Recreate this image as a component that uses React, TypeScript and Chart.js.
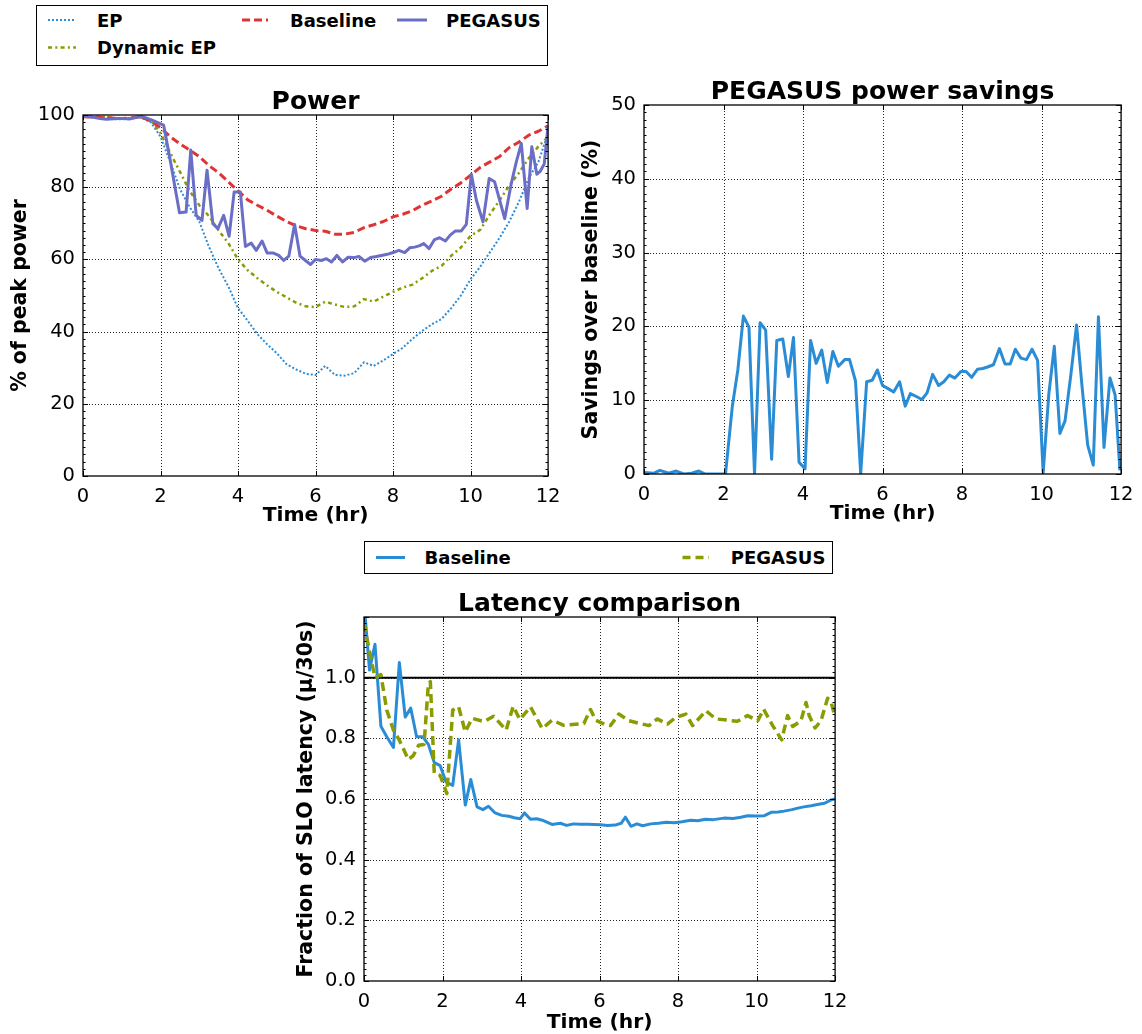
import React, { useEffect, useRef } from "react";
import { Chart, registerables } from "chart.js";

Chart.register(...registerables);

const FONT = "'DejaVu Sans', 'Liberation Sans', sans-serif";

// ---------------- Power chart data ----------------
const SMOOTH_T = [0, 0.5, 1, 1.5, 1.75, 2, 2.25, 2.5, 2.75, 3, 3.25, 3.5, 3.75, 4, 4.25, 4.5, 4.75, 5, 5.25, 5.5, 5.75, 6, 6.25, 6.5, 6.75, 7, 7.25, 7.5, 7.75, 8, 8.25, 8.5, 8.75, 9, 9.25, 9.5, 9.75, 10, 10.25, 10.5, 10.75, 11, 11.25, 11.5, 11.75, 12];
const EP_POWER = [99.5, 99, 98.8, 99.3, 98, 94, 87, 79.5, 74.5, 70.5, 63.5, 57.5, 52.5, 46.5, 43, 39.3, 36.5, 34, 31, 29.5, 28.3, 28, 30.5, 28, 27.8, 28.5, 31.5, 30.5, 32, 33.8, 35.5, 38, 40.2, 42, 43.5, 46.5, 50, 54.5, 58, 62, 66, 70.5, 76, 82.5, 87, 95];
const DYN_EP_POWER = [99.5, 99.5, 99, 99.3, 98.5, 95, 89.5, 84.3, 79, 75, 72, 68, 64.5, 60, 57, 54.8, 52.8, 51, 49.5, 48, 47, 46.8, 48.3, 47.5, 46.8, 47, 49, 48.3, 49.7, 51, 52.2, 53, 54.8, 56.8, 58.2, 61, 63.3, 66.5, 68.2, 72.5, 76.4, 80.5, 84, 88, 91.3, 94];
const BASELINE_POWER = [99.5, 99.3, 99, 99.5, 98.3, 96.5, 94, 92, 90.3, 88.5, 86, 84, 81.5, 79, 76.5, 75, 73.6, 72, 70.5, 69.3, 68.5, 68, 67.8, 67, 67, 67.5, 68.8, 69.6, 70.5, 71.8, 72.5, 73.5, 75, 76.2, 77.5, 79.5, 81.2, 83.3, 85.5, 87, 88.5, 91, 92.5, 94.4, 95.5, 97];

const PEG_T = [0, 0.2, 0.44, 0.6, 0.9, 1.04, 1.2, 1.5, 1.78, 2.08, 2.25, 2.49, 2.66, 2.78, 2.92, 3.07, 3.2, 3.35, 3.48, 3.63, 3.77, 3.9, 4.06, 4.19, 4.34, 4.47, 4.62, 4.75, 4.9, 5.05, 5.18, 5.31, 5.46, 5.6, 5.74, 5.87, 6.0, 6.15, 6.28, 6.41, 6.55, 6.7, 6.84, 6.99, 7.12, 7.27, 7.42, 7.57, 7.7, 7.85, 8.0, 8.15, 8.3, 8.43, 8.56, 8.69, 8.79, 8.93, 9.07, 9.2, 9.35, 9.48, 9.61, 9.76, 9.89, 10.02, 10.15, 10.32, 10.48, 10.62, 10.75, 10.88, 11.05, 11.18, 11.31, 11.46, 11.58, 11.71, 11.79, 11.9, 12.0];
const PEGASUS_POWER = [99.7, 99.5, 99, 98.8, 99, 99, 98.9, 99.7, 98.6, 97.2, 87.5, 72.9, 73.1, 90.3, 72.2, 70.8, 84.7, 69.9, 68.5, 72.2, 66.4, 78.7, 78.7, 63.6, 64.5, 62.5, 65.1, 61.8, 61.8, 61.1, 59.7, 60.9, 69.7, 60.9, 59.7, 58.6, 60, 59.7, 60.2, 59.3, 61.1, 59.3, 60.6, 60.5, 60.8, 59.5, 60.5, 60.8, 61.1, 61.4, 61.9, 62.5, 61.9, 63.2, 63.4, 63.8, 64.4, 63, 65.5, 66, 65.1, 66.8, 67.9, 67.9, 69.7, 83.6, 76.4, 70.4, 82.4, 81.5, 76.4, 71.3, 81, 87, 92.1, 74.1, 91.2, 83.6, 84.3, 86.4, 97.2];

// ---------------- Savings chart data ----------------
const SAV_T = [0, 0.24, 0.4, 0.62, 0.81, 1.0, 1.2, 1.38, 1.54, 2.05, 2.22, 2.36, 2.5, 2.64, 2.78, 2.92, 3.06, 3.21, 3.34, 3.49, 3.63, 3.76, 3.9, 4.05, 4.19, 4.33, 4.47, 4.61, 4.75, 4.89, 5.05, 5.17, 5.32, 5.45, 5.6, 5.74, 5.87, 6.0, 6.13, 6.28, 6.43, 6.57, 6.7, 6.85, 6.99, 7.12, 7.26, 7.41, 7.54, 7.68, 7.82, 7.97, 8.1, 8.24, 8.39, 8.52, 8.64, 8.79, 8.94, 9.08, 9.21, 9.34, 9.48, 9.62, 9.76, 9.9, 10.04, 10.18, 10.32, 10.46, 10.59, 10.74, 10.88, 11.01, 11.16, 11.3, 11.43, 11.57, 11.72, 11.85, 11.97];
const SAVINGS = [0.2, 0.1, 0.5, 0.1, 0.4, 0, 0.1, 0.4, 0, 0, 9.1, 14.1, 21.4, 19.9, 0, 20.5, 19.5, 2, 18.1, 18.3, 13.2, 18.5, 1.6, 0.7, 18.1, 15, 16.8, 12.4, 16.6, 14.6, 15.5, 15.5, 12.6, 0, 12.5, 12.7, 14.1, 12, 11.6, 11.1, 12.5, 9.2, 10.9, 10.5, 10.1, 11, 13.5, 12, 12.5, 13.4, 13, 13.9, 13.9, 13.1, 14.2, 14.3, 14.5, 14.8, 17, 14.9, 14.9, 16.9, 15.7, 15.5, 16.9, 15.4, 0.2, 10.7, 17.3, 5.5, 7.2, 13.6, 20.2, 12.3, 3.9, 1.2, 21.3, 3.6, 13, 10.7, 0.5];

// ---------------- Latency chart data ----------------
const LAT_BASE_T = [0, 0.14, 0.28, 0.43, 0.58, 0.75, 0.9, 1.05, 1.19, 1.34, 1.5, 1.64, 1.79, 1.94, 2.09, 2.26, 2.41, 2.58, 2.72, 2.88, 3.03, 3.17, 3.34, 3.51, 3.69, 3.83, 3.98, 4.09, 4.24, 4.4, 4.54, 4.79, 5.0, 5.16, 5.34, 5.5, 5.7, 5.86, 6.03, 6.2, 6.4, 6.55, 6.66, 6.8, 6.95, 7.1, 7.3, 7.5, 7.7, 7.9, 8.1, 8.32, 8.5, 8.7, 8.9, 9.17, 9.4, 9.6, 9.77, 10.0, 10.2, 10.37, 10.55, 10.7, 10.9, 11.05, 11.2, 11.39, 11.55, 11.73, 11.9, 12];
const LAT_BASELINE = [1.25, 1.025, 1.11, 0.84, 0.805, 0.77, 1.05, 0.87, 0.9, 0.805, 0.805, 0.78, 0.72, 0.71, 0.656, 0.645, 0.795, 0.58, 0.664, 0.574, 0.565, 0.576, 0.554, 0.546, 0.543, 0.538, 0.535, 0.554, 0.533, 0.535, 0.53, 0.516, 0.52, 0.513, 0.518, 0.517, 0.517, 0.516, 0.515, 0.513, 0.514, 0.52, 0.54, 0.51, 0.518, 0.512, 0.518, 0.52, 0.523, 0.522, 0.525, 0.53, 0.528, 0.533, 0.532, 0.537, 0.536, 0.54, 0.545, 0.544, 0.545, 0.556, 0.557, 0.56, 0.565, 0.57, 0.574, 0.578, 0.582, 0.586, 0.597, 0.6];
const LAT_PEG_T = [0, 0.15, 0.28, 0.43, 0.58, 0.75, 0.9, 1.13, 1.26, 1.39, 1.53, 1.64, 1.69, 1.79, 1.94, 2.11, 2.26, 2.41, 2.58, 2.75, 3.06, 3.3, 3.62, 3.8, 3.97, 4.24, 4.54, 4.79, 5.09, 5.6, 5.77, 5.9, 6.15, 6.28, 6.49, 6.75, 7.0, 7.26, 7.47, 7.73, 7.94, 8.2, 8.37, 8.71, 8.96, 9.26, 9.51, 9.77, 10.03, 10.18, 10.41, 10.64, 10.79, 10.92, 11.13, 11.26, 11.34, 11.49, 11.64, 11.81, 11.9, 12];
const LAT_PEGASUS = [1.18, 1.08, 1.0, 1.01, 0.893, 0.827, 0.794, 0.73, 0.744, 0.777, 0.78, 0.98, 0.987, 0.684, 0.678, 0.618, 0.893, 0.904, 0.821, 0.866, 0.855, 0.873, 0.827, 0.906, 0.862, 0.904, 0.832, 0.86, 0.843, 0.849, 0.895, 0.86, 0.845, 0.842, 0.88, 0.858, 0.85, 0.842, 0.864, 0.847, 0.869, 0.88, 0.842, 0.891, 0.864, 0.86, 0.856, 0.875, 0.858, 0.896, 0.842, 0.795, 0.875, 0.839, 0.858, 0.918, 0.875, 0.834, 0.858, 0.932, 0.918, 0.87];
const SLO_T = [0, 12];
const SLO_LEVEL = [1.0, 1.0];

// ---------------- Tick setups ----------------
const TIME_TICK_STEP = 2;
const POWER_TICKS = { min: 0, max: 100, step: 20 };
const SAVINGS_TICKS = { min: 0, max: 50, step: 10 };
const LATENCY_TICKS = { min: 0, max: 1.2, step: 0.2 };

const C_BLUE = "#2b8cd6";
const C_RED = "#e03434";
const C_OLIVE = "#8a9c00";
const C_PURPLE = "#6a6ec6";

const pts = (xs: number[], ys: number[]) => xs.map((x, i) => ({ x, y: ys[i] }));

const mplAxes = {
  id: "mplAxes",
  beforeDatasetsDraw(chart: any) {
    const { ctx, chartArea: a } = chart;
    const xs = chart.scales.x;
    const ys = chart.scales.y;
    ctx.save();
    ctx.strokeStyle = "rgba(0,0,0,0.85)";
    ctx.lineWidth = 1;
    ctx.setLineDash([1, 2]);
    ctx.beginPath();
    xs.ticks.forEach((t: any) => {
      const p = Math.round(xs.getPixelForValue(t.value)) + 0.5;
      if (p < a.left + 2 || p > a.right - 2) return;
      ctx.moveTo(p, a.top);
      ctx.lineTo(p, a.bottom);
    });
    ys.ticks.forEach((t: any) => {
      const p = Math.round(ys.getPixelForValue(t.value)) + 0.5;
      if (p < a.top + 2 || p > a.bottom - 2) return;
      ctx.moveTo(a.left, p);
      ctx.lineTo(a.right, p);
    });
    ctx.stroke();
    ctx.restore();
  },
  afterDatasetsDraw(chart: any) {
    const { ctx, chartArea: a } = chart;
    const xs = chart.scales.x;
    const ys = chart.scales.y;
    ctx.save();
    ctx.setLineDash([]);
    ctx.strokeStyle = "#000";
    ctx.lineWidth = 1;
    ctx.beginPath();
    xs.ticks.forEach((t: any) => {
      const p = Math.round(xs.getPixelForValue(t.value)) + 0.5;
      ctx.moveTo(p, a.bottom);
      ctx.lineTo(p, a.bottom - 5);
      ctx.moveTo(p, a.top);
      ctx.lineTo(p, a.top + 5);
    });
    ys.ticks.forEach((t: any) => {
      const p = Math.round(ys.getPixelForValue(t.value)) + 0.5;
      ctx.moveTo(a.left, p);
      ctx.lineTo(a.left + 5, p);
      ctx.moveTo(a.right, p);
      ctx.lineTo(a.right - 5, p);
    });
    if (ys.ticks.length > 1) {
      const step = (ys.ticks[1].value - ys.ticks[0].value) / 10;
      const n = Math.round((ys.max - ys.min) / step);
      for (let i = 1; i < n; i++) {
        const p = Math.round(ys.getPixelForValue(ys.min + i * step)) + 0.5;
        ctx.moveTo(a.left, p);
        ctx.lineTo(a.left + 2.5, p);
        ctx.moveTo(a.right, p);
        ctx.lineTo(a.right - 2.5, p);
      }
    }
    ctx.stroke();
    ctx.lineWidth = 1.3;
    ctx.strokeRect(a.left, a.top, a.right - a.left, a.bottom - a.top);
    ctx.restore();
  },
};

type PanelParams = {
  title: string;
  titlePadTop: number;
  yTitle: string;
  yTitlePadTop: number;
  xTitlePadBottom: number;
  xTitleLineHeight: number;
  yWidth: number;
  xHeight: number;
  padRight: number;
  yTicks: { min: number; max: number; step: number };
  yFormat: (v: number) => string;
  datasets: any[];
};

function makeConfig(p: PanelParams): any {
  return {
    type: "line",
    data: { datasets: p.datasets },
    options: {
      responsive: false,
      animation: false,
      devicePixelRatio: 1,
      events: [],
      layout: { padding: { left: 0, right: p.padRight, top: 0, bottom: 0 } },
      elements: { point: { radius: 0 }, line: { tension: 0 } },
      plugins: {
        legend: { display: false },
        tooltip: { enabled: false },
        title: {
          display: true,
          fullSize: false,
          text: p.title,
          color: "#000",
          font: { family: FONT, size: 25, weight: "bold", lineHeight: 1 },
          padding: { top: p.titlePadTop, bottom: 0 },
        },
      },
      scales: {
        x: {
          type: "linear",
          min: 0,
          max: 12,
          grid: { display: false, drawTicks: false },
          border: { display: false },
          ticks: {
            stepSize: TIME_TICK_STEP,
            padding: 9.5,
            color: "#000",
            autoSkip: false,
            maxRotation: 0,
            font: { family: FONT, size: 19.5 },
          },
          title: {
            display: true,
            text: "Time (hr)",
            color: "#000",
            font: { family: FONT, size: 20.3, weight: "bold", lineHeight: p.xTitleLineHeight },
            padding: { top: 0, bottom: p.xTitlePadBottom },
          },
          afterFit: (s: any) => {
            s.height = p.xHeight;
          },
        },
        y: {
          type: "linear",
          min: p.yTicks.min,
          max: p.yTicks.max,
          grid: { display: false, drawTicks: false },
          border: { display: false },
          ticks: {
            stepSize: p.yTicks.step,
            padding: 8,
            color: "#000",
            autoSkip: false,
            font: { family: FONT, size: 19.5 },
            callback: (v: any) => p.yFormat(Number(v)),
          },
          title: {
            display: true,
            text: p.yTitle,
            color: "#000",
            font: { family: FONT, size: 20.5, weight: "bold", lineHeight: 1.2 },
            padding: { top: p.yTitlePadTop, bottom: 0 },
          },
          afterFit: (s: any) => {
            s.width = p.yWidth;
          },
        },
      },
    },
    plugins: [mplAxes],
  };
}

function ChartCanvas(props: { left: number; top: number; width: number; height: number; make: () => any }) {
  const ref = useRef<HTMLCanvasElement>(null);
  useEffect(() => {
    const chart = new Chart(ref.current as HTMLCanvasElement, props.make());
    return () => chart.destroy();
  }, []);
  return (
    <canvas
      ref={ref}
      width={props.width}
      height={props.height}
      style={{ position: "absolute", display: "block", left: props.left, top: props.top, width: props.width, height: props.height }}
    />
  );
}

const line = (label: string, xs: number[], ys: number[], color: string, width: number, dash: number[] = []) => ({
  label,
  data: pts(xs, ys),
  borderColor: color,
  backgroundColor: color,
  borderWidth: width,
  borderDash: dash,
  borderJoinStyle: "round",
  borderCapStyle: "butt",
  fill: false,
  pointRadius: 0,
});

const powerConfig = () =>
  makeConfig({
    title: "Power",
    titlePadTop: 15,
    yTitle: "% of peak power",
    yTitlePadTop: 8,
    xTitlePadBottom: 6.6,
    xTitleLineHeight: 1.2,
    yWidth: 83,
    xHeight: 59,
    padRight: 17,
    yTicks: POWER_TICKS,
    yFormat: (v) => String(Math.round(v)),
    datasets: [
      line("PEGASUS", PEG_T, PEGASUS_POWER, C_PURPLE, 3),
      line("Baseline", SMOOTH_T, BASELINE_POWER, C_RED, 3, [8, 4]),
      line("Dynamic EP", SMOOTH_T, DYN_EP_POWER, C_OLIVE, 2.5, [4, 3.3, 2, 3.3]),
      line("EP", SMOOTH_T, EP_POWER, C_BLUE, 2, [2, 2]),
    ],
  });

const savingsConfig = () =>
  makeConfig({
    title: "PEGASUS power savings",
    titlePadTop: 15,
    yTitle: "Savings over baseline (%)",
    yTitlePadTop: 9,
    xTitlePadBottom: 8.6,
    xTitleLineHeight: 1.2,
    yWidth: 74,
    xHeight: 61,
    padRight: 20,
    yTicks: SAVINGS_TICKS,
    yFormat: (v) => String(Math.round(v)),
    datasets: [line("Savings", SAV_T, SAVINGS, C_BLUE, 3)],
  });

const latencyConfig = () =>
  makeConfig({
    title: "Latency comparison",
    titlePadTop: 12,
    yTitle: "Fraction of SLO latency (\u03bc/30s)",
    yTitlePadTop: 14.4,
    xTitlePadBottom: 1,
    xTitleLineHeight: 1,
    yWidth: 84,
    xHeight: 53,
    padRight: 18,
    yTicks: LATENCY_TICKS,
    yFormat: (v) => (Math.abs(v - 1.2) < 1e-6 ? "" : v.toFixed(1)),
    datasets: [
      line("PEGASUS", LAT_PEG_T, LAT_PEGASUS, C_OLIVE, 3.5, [9, 5]),
      line("Baseline", LAT_BASE_T, LAT_BASELINE, C_BLUE, 3),
      line("SLO", SLO_T, SLO_LEVEL, "#000", 2),
    ],
  });

const textStyle: React.CSSProperties = {
  position: "absolute",
  fontFamily: FONT,
  fontWeight: "bold",
  fontSize: 18,
  lineHeight: "22px",
  whiteSpace: "nowrap",
  color: "#000",
};

function Sample(props: { x1: number; x2: number; y: number; color: string; width: number; dash?: string }) {
  return (
    <line
      x1={props.x1}
      x2={props.x2}
      y1={props.y}
      y2={props.y}
      stroke={props.color}
      strokeWidth={props.width}
      strokeDasharray={props.dash}
    />
  );
}

function TopLegend() {
  return (
    <div
      style={{
        position: "absolute",
        left: 36,
        top: 5,
        width: 512,
        height: 61,
        border: "1px solid #000",
        boxSizing: "border-box",
        background: "#fff",
      }}
    >
      <svg width={510} height={59} style={{ position: "absolute", left: 0, top: 0 }}>
        <Sample x1={11} x2={39} y={14} color={C_BLUE} width={2} dash="2,2" />
        <Sample x1={205} x2={231} y={14} color={C_RED} width={3} dash="8,4" />
        <Sample x1={360} x2={390} y={14} color={C_PURPLE} width={3} />
        <Sample x1={11} x2={39} y={41.5} color={C_OLIVE} width={2.5} dash="4,3.3,2,3.3" />
      </svg>
      <div style={{ ...textStyle, left: 60, top: 3.5 }}>EP</div>
      <div style={{ ...textStyle, left: 253, top: 3.5 }}>Baseline</div>
      <div style={{ ...textStyle, left: 409, top: 3.5 }}>PEGASUS</div>
      <div style={{ ...textStyle, left: 60, top: 30.5 }}>Dynamic EP</div>
    </div>
  );
}

function BottomLegend() {
  return (
    <div
      style={{
        position: "absolute",
        left: 364,
        top: 541,
        width: 469,
        height: 33,
        border: "1px solid #000",
        boxSizing: "border-box",
        background: "#fff",
      }}
    >
      <svg width={467} height={31} style={{ position: "absolute", left: 0, top: 0 }}>
        <Sample x1={11} x2={40} y={15.5} color={C_BLUE} width={3} />
        <Sample x1={317.5} x2={344} y={15.5} color={C_OLIVE} width={3.5} dash="8,5" />
      </svg>
      <div style={{ ...textStyle, left: 59.6, top: 4.8 }}>Baseline</div>
      <div style={{ ...textStyle, left: 365.7, top: 4.8 }}>PEGASUS</div>
    </div>
  );
}

export default function App() {
  useEffect(() => {
    document.body.style.overflow = "hidden";
  }, []);
  return (
    <div style={{ position: "absolute", left: 0, top: 0, width: 1142, height: 1034, background: "#fff", overflow: "hidden" }}>
      <ChartCanvas left={0} top={75} width={570} height={460} make={powerConfig} />
      <ChartCanvas left={570} top={65} width={573} height={470} make={savingsConfig} />
      <ChartCanvas left={280} top={580} width={577} height={454} make={latencyConfig} />
      <TopLegend />
      <BottomLegend />
    </div>
  );
}
